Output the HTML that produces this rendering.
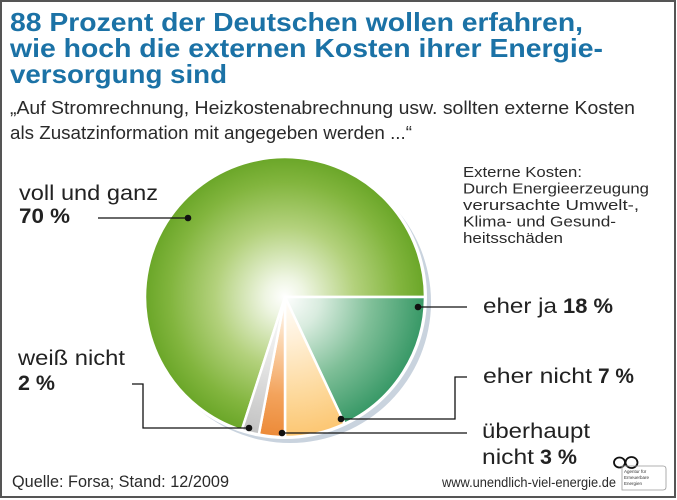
<!DOCTYPE html>
<html>
<head>
<meta charset="utf-8">
<style>
html,body{margin:0;padding:0;background:#fff;}
svg{display:block;}
text{font-family:"Liberation Sans",sans-serif;}
</style>
</head>
<body>
<svg width="677" height="500" viewBox="0 0 677 500" xmlns="http://www.w3.org/2000/svg">
<defs>
<radialGradient id="gG" gradientUnits="userSpaceOnUse" cx="285" cy="297" r="140">
<stop offset="0" stop-color="#ffffff"/>
<stop offset="0.14" stop-color="#eef5e2"/>
<stop offset="0.5" stop-color="#b3d17c"/>
<stop offset="0.82" stop-color="#82b53e"/>
<stop offset="1" stop-color="#6aa628"/>
</radialGradient>
<radialGradient id="gT" gradientUnits="userSpaceOnUse" cx="285" cy="297" r="140">
<stop offset="0" stop-color="#ffffff"/>
<stop offset="0.25" stop-color="#d9ecdf"/>
<stop offset="0.62" stop-color="#7fbf98"/>
<stop offset="1" stop-color="#379866"/>
</radialGradient>
<radialGradient id="gO" gradientUnits="userSpaceOnUse" cx="285" cy="297" r="140">
<stop offset="0" stop-color="#ffffff"/>
<stop offset="0.3" stop-color="#fff0d8"/>
<stop offset="0.7" stop-color="#fdd99c"/>
<stop offset="1" stop-color="#fcc672"/>
</radialGradient>
<radialGradient id="gD" gradientUnits="userSpaceOnUse" cx="285" cy="297" r="140">
<stop offset="0" stop-color="#ffffff"/>
<stop offset="0.3" stop-color="#fbd8b4"/>
<stop offset="0.7" stop-color="#f3a35c"/>
<stop offset="1" stop-color="#ec8a38"/>
</radialGradient>
<radialGradient id="gY" gradientUnits="userSpaceOnUse" cx="285" cy="297" r="140">
<stop offset="0" stop-color="#ffffff"/>
<stop offset="0.5" stop-color="#e4e4e4"/>
<stop offset="1" stop-color="#c2c2c2"/>
</radialGradient>
</defs>

<rect x="0" y="0" width="677" height="500" fill="#fff"/>
<rect x="1" y="1" width="674" height="496" fill="none" stroke="#555" stroke-width="2"/>

<!-- Title -->
<g fill="#1b72a6" font-weight="bold" font-size="26">
<text x="10" y="31" textLength="573" lengthAdjust="spacingAndGlyphs">88 Prozent der Deutschen wollen erfahren,</text>
<text x="10" y="57" textLength="593" lengthAdjust="spacingAndGlyphs">wie hoch die externen Kosten ihrer Energie-</text>
<text x="10" y="83" textLength="217" lengthAdjust="spacingAndGlyphs">versorgung sind</text>
</g>
<g fill="#2a2a2a" font-size="18.5">
<text x="10" y="114" textLength="625" lengthAdjust="spacingAndGlyphs">„Auf Stromrechnung, Heizkostenabrechnung usw. sollten externe Kosten</text>
<text x="10" y="139" textLength="402" lengthAdjust="spacingAndGlyphs">als Zusatzinformation mit angegeben werden ...“</text>
</g>

<!-- Pie shadow -->
<circle cx="290" cy="302" r="141" fill="#c9d3de"/>
<circle cx="285" cy="297" r="142" fill="#ffffff"/>

<!-- Slices -->
<g stroke="#ffffff" stroke-width="2.5" stroke-linejoin="round">
<path d="M285,297 L241.7,430.2 A140,140 0 1 1 425,297 Z" fill="url(#gG)"/>
<path d="M285,297 L425,297 A140,140 0 0 1 344.6,423.7 Z" fill="url(#gT)"/>
<path d="M285,297 L344.6,423.7 A140,140 0 0 1 285,437 Z" fill="url(#gO)"/>
<path d="M285,297 L285,437 A140,140 0 0 1 258.8,434.5 Z" fill="url(#gD)"/>
<path d="M285,297 L258.8,434.5 A140,140 0 0 1 241.7,430.2 Z" fill="url(#gY)"/>
</g>

<!-- Leader lines -->
<g stroke="#111" stroke-width="1.3" fill="none">
<polyline points="98,218 188,218"/>
<polyline points="418,307 467,307"/>
<polyline points="341,419 455,419 455,377 467,377"/>
<polyline points="282,433 467,433"/>
<polyline points="132,384 143,384 143,428 249,428"/>
</g>
<g fill="#111">
<circle cx="188" cy="218" r="3.3"/>
<circle cx="418" cy="307" r="3.3"/>
<circle cx="341" cy="419" r="3.3"/>
<circle cx="282" cy="433" r="3.3"/>
<circle cx="249" cy="428" r="3.3"/>
</g>

<!-- Labels -->
<g fill="#222" font-size="21">
<text x="19" y="200" textLength="139" lengthAdjust="spacingAndGlyphs">voll und ganz</text>
<text x="19" y="223" font-weight="bold" textLength="51" lengthAdjust="spacingAndGlyphs">70 %</text>

<text x="483" y="313" textLength="74" lengthAdjust="spacingAndGlyphs">eher ja</text>
<text x="563" y="313" font-weight="bold" textLength="50" lengthAdjust="spacingAndGlyphs">18 %</text>

<text x="483" y="383" textLength="109" lengthAdjust="spacingAndGlyphs">eher nicht</text>
<text x="598" y="383" font-weight="bold" textLength="36" lengthAdjust="spacingAndGlyphs">7 %</text>

<text x="482" y="438" textLength="108" lengthAdjust="spacingAndGlyphs">überhaupt</text>
<text x="482" y="464" textLength="52" lengthAdjust="spacingAndGlyphs">nicht</text>
<text x="540" y="464" font-weight="bold" textLength="37" lengthAdjust="spacingAndGlyphs">3 %</text>

<text x="18" y="365" textLength="107" lengthAdjust="spacingAndGlyphs">weiß nicht</text>
<text x="18" y="390" font-weight="bold" textLength="37" lengthAdjust="spacingAndGlyphs">2 %</text>
</g>

<g fill="#2a2a2a" font-size="15">
<text x="463" y="177" textLength="119" lengthAdjust="spacingAndGlyphs">Externe Kosten:</text>
<text x="463" y="193.5" textLength="186" lengthAdjust="spacingAndGlyphs">Durch Energieerzeugung</text>
<text x="463" y="210" textLength="176" lengthAdjust="spacingAndGlyphs">verursachte Umwelt-,</text>
<text x="463" y="226.5" textLength="153" lengthAdjust="spacingAndGlyphs">Klima- und Gesund-</text>
<text x="463" y="243" textLength="100" lengthAdjust="spacingAndGlyphs">heitsschäden</text>
</g>

<text x="12" y="487" fill="#2a2a2a" font-size="17" textLength="217" lengthAdjust="spacingAndGlyphs">Quelle: Forsa; Stand: 12/2009</text>
<text x="442" y="487" fill="#2a2a2a" font-size="14" textLength="174" lengthAdjust="spacingAndGlyphs">www.unendlich-viel-energie.de</text>

<!-- Logo -->
<g fill="none" stroke="#111" stroke-width="1.8">
<ellipse cx="619.5" cy="462.5" rx="5.5" ry="5"/>
<ellipse cx="631.5" cy="462.5" rx="6" ry="5.5"/>
</g>
<path d="M622,466 L663,466 Q666,466 666,469 L666,487 Q666,490 663,490 L622,490 Z" fill="none" stroke="#999" stroke-width="0.8"/>
<g fill="#333" font-size="4.5">
<text x="624" y="473">Agentur für</text>
<text x="624" y="479">Erneuerbare</text>
<text x="624" y="485">Energien</text>
</g>
</svg>
</body>
</html>
